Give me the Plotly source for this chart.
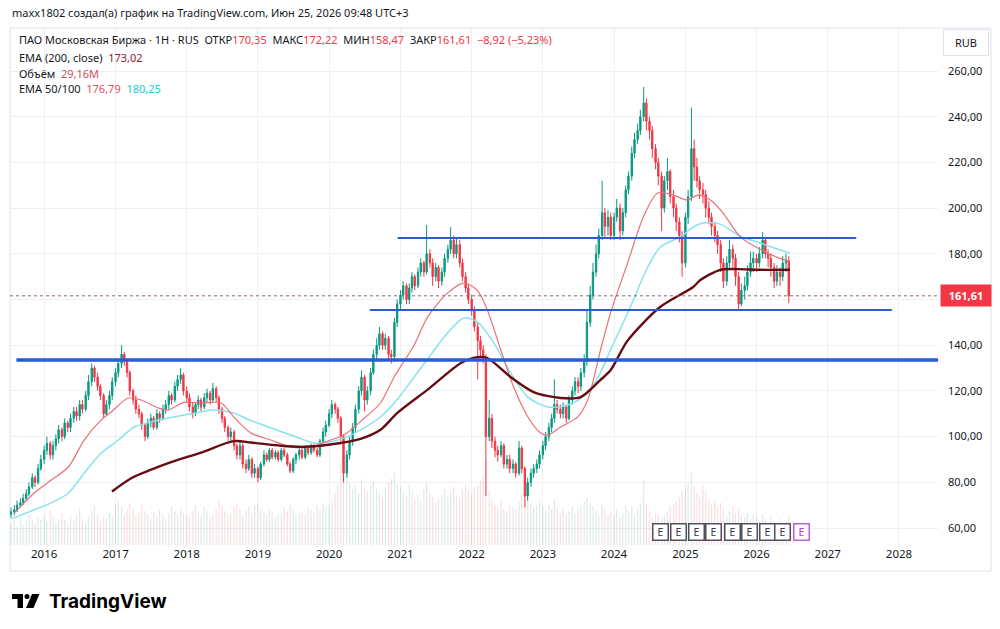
import pandas as pd
import plotly.graph_objects as go

# ---------------- data (semi-monthly candles) ----------------
opens = [
    # 2015
    66, 67, 68, 70, 71, 73, 75, 78, 82, 80, 86,
    # 2016
    90, 94, 97, 92, 96, 99, 103, 100, 106, 104, 108, 111, 109, 114, 112, 118, 124, 130, 126, 122, 118, 110, 114, 118,
    # 2017
    124, 128, 132, 136, 133, 128, 120, 116, 112, 110, 105, 100, 106, 108, 104, 110, 108, 112, 114, 118, 116, 122, 125, 127,
    # 2018
    120, 117, 113, 110, 114, 116, 113, 117, 119, 116, 121, 117, 112, 108, 104, 100, 102, 96, 92, 96, 88, 86, 90, 84,
    # 2019
    86, 82, 88, 92, 90, 94, 91, 93, 90, 94, 92, 88, 85, 90, 92, 94, 91, 95, 93, 96, 94, 92, 98, 102,
    # 2020
    105, 110, 114, 112, 108, 100, 84, 92, 98, 104, 112, 120, 126, 116, 120, 128, 136, 140, 145, 140, 143, 136, 135, 150,
    # 2021
    158, 162, 166, 160, 165, 170, 166, 172, 176, 172, 180, 176, 170, 174, 168, 172, 178, 182, 186, 180, 184, 176, 170, 165,
    # 2022
    160, 155, 148, 142, 138, 134, 100, 108, 98, 94, 92, 96, 88, 90, 86, 88, 84, 95, 86, 74, 80, 84, 86, 88,
    # 2023
    92, 96, 100, 104, 108, 114, 112, 110, 113, 108, 116, 120, 124, 122, 128, 133, 150, 162, 172, 180, 188, 198, 192, 196,
    # 2024
    188, 196, 200, 190, 198, 208, 214, 224, 230, 234, 240, 246, 238, 234, 226, 220, 214, 200, 212, 216, 205, 200, 194, 188,
    # 2025
    176, 196, 205, 226, 218, 212, 208, 206, 200, 196, 192, 188, 184, 176, 168, 176, 182, 178, 170, 158, 164, 166, 172, 176,
    # 2026
    178, 176, 180, 186, 180, 178, 174, 168, 172, 170, 176, 177,
]
highs = [
    69, 70, 72, 73, 75, 77, 80, 84, 83, 88, 92,
    96, 100, 98, 98, 101, 105, 104, 108, 107, 110, 113, 113, 116, 116, 120, 127, 132, 131, 128, 123, 119, 116, 120, 126,
    130, 134, 140, 137, 134, 129, 121, 118, 114, 111, 106, 108, 110, 109, 112, 111, 114, 116, 120, 119, 124, 127, 130, 128,
    122, 119, 115, 115, 118, 117, 119, 121, 120, 123.5, 122, 118, 113, 109, 105, 104, 103, 97, 98, 97, 90, 92, 91, 88,
    87, 89, 94, 93, 95, 95, 94, 94, 95, 95, 93, 89, 91, 93, 96, 95, 96, 96, 97, 97, 95, 99, 104, 107,
    112, 116, 115, 113, 109, 101, 94, 100, 106, 114, 122, 129, 127, 122, 130, 138, 143, 148, 146, 145, 144, 138, 152, 160,
    164, 168, 167, 167, 172, 171, 174, 178, 177, 192.6, 182, 178, 176, 175, 174, 180, 184, 191.7, 188, 187, 186, 178, 172, 167,
    162, 157, 150, 144, 140, 136, 116, 110, 100, 96, 98, 97, 92, 92, 90, 89, 98, 96, 87, 82, 86, 88, 90, 94,
    98, 102, 106, 110, 125, 116, 114, 115, 114, 118, 122, 126, 126, 130, 136, 155, 166, 176, 184, 191, 212, 200, 199, 198,
    198, 204, 202, 200, 210, 216, 227, 233, 237, 243, 253, 248, 240, 236, 228, 222, 216, 214, 222, 217, 208, 202, 196, 190,
    198, 208, 244, 230, 222, 214, 211, 208, 203, 198, 194, 190, 186, 178, 179, 186, 184, 180, 172, 167, 170, 175, 181, 181,
    180, 183, 189.6, 187, 182, 180, 176, 175, 174, 179, 180, 179,
]
lows = [
    64.5, 65.5, 67, 69, 70, 72, 74, 77, 78, 79, 85,
    88, 92, 90, 90, 94, 97, 98, 99, 102, 102, 106, 107, 107, 110, 111, 116, 122, 124, 120, 116, 108, 109, 112, 116,
    122, 126, 130, 131, 126, 118, 114, 110, 108, 103, 98, 99, 104, 103, 103, 106, 107, 110, 112, 114, 115, 120, 123, 118,
    115, 111, 108, 109, 112, 111, 112, 115, 114, 115, 115, 110, 106, 102, 98, 98, 94, 90, 90, 86, 84, 85, 82, 82,
    80, 81, 87, 89, 89, 90, 90, 89, 89, 91, 87, 84, 84, 88, 90, 90, 90, 92, 92, 93, 91, 91, 97, 100,
    104, 108, 110, 106, 98, 80, 82, 90, 96, 102, 110, 118, 111, 114, 118, 127, 134, 138, 138, 138, 134, 132, 134, 148,
    155, 160, 158, 158, 163, 164, 165, 170, 170, 171, 174, 166, 168, 165, 166, 170, 176, 180, 178, 178, 174, 168, 163, 158,
    153, 146, 125, 135, 132, 74, 98, 95, 91, 89, 91, 86, 86, 84, 84, 82, 83, 84, 69, 72, 78, 82, 84, 86,
    90, 94, 98, 102, 106, 110, 108, 108, 106, 107, 114, 118, 119, 120, 126, 131, 148, 160, 170, 178, 186, 187, 188, 186,
    186, 194, 186, 188, 196, 206, 212, 222, 228, 232, 238, 234, 230, 222, 217, 210, 190, 198, 208, 202, 196, 190, 185, 170,
    174, 193, 203, 212, 209, 204, 202, 196, 193, 188, 185, 180, 172, 165, 166, 174, 174, 166, 155.4, 157, 160, 164, 170, 172,
    172, 174, 178, 178, 174, 170, 165, 166, 166, 168, 172, 158.47,
]
closes = [
    67, 68, 70, 71, 73, 75, 78, 82, 80, 86, 90,
    94, 97, 92, 96, 99, 103, 100, 106, 104, 108, 111, 109, 114, 112, 118, 124, 130, 126, 122, 118, 110, 114, 118, 124,
    128, 132, 136, 133, 128, 120, 116, 112, 110, 105, 100, 106, 108, 104, 110, 108, 112, 114, 118, 116, 122, 125, 127, 120,
    117, 113, 110, 114, 116, 113, 117, 119, 116, 121, 117, 112, 108, 104, 100, 102, 96, 92, 96, 88, 86, 90, 84, 86,
    82, 88, 92, 90, 94, 91, 93, 90, 94, 92, 88, 85, 90, 92, 94, 91, 95, 93, 96, 94, 92, 98, 102, 105,
    110, 114, 112, 108, 100, 84, 92, 98, 104, 112, 120, 126, 116, 120, 128, 136, 140, 145, 140, 143, 136, 135, 150, 158,
    162, 166, 160, 165, 170, 166, 172, 176, 172, 180, 176, 170, 174, 168, 172, 178, 182, 186, 180, 184, 176, 170, 165, 160,
    155, 148, 142, 138, 134, 100, 108, 98, 94, 92, 96, 88, 90, 86, 88, 84, 95, 86, 74, 80, 84, 86, 88, 92,
    96, 100, 104, 108, 114, 112, 110, 113, 108, 116, 120, 124, 122, 128, 133, 150, 162, 172, 180, 188, 198, 192, 196, 188,
    196, 200, 190, 198, 208, 214, 224, 230, 234, 240, 246, 238, 234, 226, 220, 214, 200, 212, 216, 205, 200, 194, 188, 176,
    196, 205, 226, 218, 212, 208, 206, 200, 196, 192, 188, 184, 176, 168, 176, 182, 178, 170, 158, 164, 166, 172, 176, 178,
    176, 180, 186, 180, 178, 174, 168, 172, 170, 176, 177, 161.61,
]
volumes = [  # millions
    22, 25, 18, 28, 20, 24, 30, 26, 22, 28, 25,
    30, 24, 35, 28, 22, 26, 32, 25, 20, 28, 24, 30, 36, 26, 22, 28, 34, 38, 30, 24, 28, 26, 32, 28,
    40, 45, 38, 30, 35, 42, 36, 28, 32, 40, 34, 30, 26, 32, 28, 35, 30, 26, 32, 38, 34, 30, 36, 32,
    30, 28, 34, 40, 32, 30, 38, 34, 28, 30, 36, 44, 40, 34, 30, 32, 38, 42, 36, 30, 34, 38, 32, 40,
    42, 36, 32, 30, 36, 34, 28, 30, 32, 38, 34, 40, 36, 30, 32, 34, 30, 38, 36, 32, 40, 36, 42, 38,
    40, 44, 52, 60, 82, 78, 70, 62, 56, 60, 52, 66, 58, 54, 60, 64, 56, 52, 48, 58, 62, 66, 72, 60,
    58, 52, 48, 60, 54, 46, 50, 44, 56, 62, 52, 48, 42, 46, 50, 56, 48, 52, 58, 50, 46, 54, 60, 56,
    52, 58, 60, 64, 70, 85, 54, 46, 40, 38, 44, 36, 34, 40, 38, 36, 44, 52, 56, 48, 42, 38, 40, 44,
    38, 34, 40, 36, 46, 38, 32, 36, 30, 34, 38, 32, 36, 40, 44, 48, 42, 38, 34, 30, 40, 36, 30, 34,
    30, 36, 28, 32, 40, 34, 38, 30, 36, 42, 65, 40, 34, 28, 32, 30, 26, 30, 34, 38, 40, 44, 48, 54,
    56, 62, 72, 58, 52, 48, 60, 54, 46, 40, 44, 38, 42, 36, 30, 34, 38, 32, 36, 30, 28, 32, 26, 30,
    28, 24, 30, 26, 22, 28, 24, 20, 26, 22, 24, 29,
]
dates = pd.date_range("2015-07-15", periods=len(closes), freq="SMS")

# indicator lines (decimal year, value)
ema200_t = [2016.95, 2017.22, 2017.50, 2017.78, 2018.20, 2018.66, 2018.90, 2019.32, 2019.60, 2019.88,
            2020.16, 2020.44, 2020.72, 2020.96, 2021.40, 2021.85, 2022.08, 2022.22, 2022.55, 2022.87,
            2023.25, 2023.53, 2023.81, 2023.95, 2024.19, 2024.65, 2025.11, 2025.21, 2025.49, 2025.73,
            2026.05, 2026.47]
ema200_v = [76, 81.8, 85.5, 88.8, 93, 98, 97.4, 96, 95.5, 96,
            97.2, 99, 103, 110.5, 121, 132.2, 134.8, 134.4, 126, 119.5,
            116.9, 117.3, 124.8, 129, 142, 156.8, 165.5, 168.5, 173, 173.3,
            173, 173.02]
ema50_t = [2015.58, 2015.86, 2016.10, 2016.34, 2016.56, 2016.80, 2016.94, 2017.18, 2017.36, 2017.60,
           2017.74, 2017.96, 2018.20, 2018.48, 2018.66, 2018.90, 2019.18, 2019.46, 2019.74, 2020.02,
           2020.21, 2020.49, 2020.72, 2020.91, 2021.19, 2021.38, 2021.66, 2021.89, 2022.08, 2022.22,
           2022.41, 2022.59, 2022.79, 2022.97, 2023.07, 2023.25, 2023.49, 2023.63, 2023.81, 2023.95,
           2024.19, 2024.41, 2024.61, 2024.83, 2025.03, 2025.17, 2025.35, 2025.53, 2025.77, 2026.05,
           2026.33, 2026.47]
ema50_v = [66.5, 75.3, 81, 86.7, 98.5, 107.3, 110.8, 116.9, 116, 112.5,
           111.6, 115, 114.7, 114.7, 108.6, 101.6, 98.5, 95.5, 95.5, 98.5,
           100.7, 108, 114.7, 126, 140, 152.3, 162.8, 167.2, 164, 155.4,
           137.9, 121.7, 108.6, 101.6, 100.7, 104.2, 108.6, 116, 137.9, 154,
           176, 196, 206.6, 205.7, 203.5, 205.7, 203.5, 197.8, 187.4, 182,
           178, 176.79]
ema100_t = [2015.54, 2015.86, 2016.10, 2016.34, 2016.56, 2016.80, 2017.04, 2017.26, 2017.50, 2017.74,
            2017.96, 2018.20, 2018.38, 2018.66, 2018.90, 2019.08, 2019.56, 2019.79, 2020.02, 2020.26,
            2020.49, 2020.72, 2020.96, 2021.19, 2021.43, 2021.66, 2021.89, 2022.08, 2022.31, 2022.55,
            2022.79, 2023.07, 2023.35, 2023.63, 2023.81, 2023.95, 2024.19, 2024.47, 2024.65, 2024.93,
            2025.11, 2025.25, 2025.49, 2025.77, 2026.05, 2026.47]
ema100_v = [64, 68, 71, 75.3, 84, 92.8, 98.5, 104.2, 106.4, 108.1,
            109.5, 110.8, 111.6, 110.3, 107, 105, 99.6, 97.2, 97.7, 100,
            103.8, 108.6, 116.5, 126, 136, 145.3, 151.9, 150.2, 141, 127.8,
            117.3, 113, 113.8, 119, 128, 137.9, 154, 174, 183, 187.4,
            191.7, 193.5, 193, 187.7, 184.7, 180.25]

# drawn horizontal levels: (value, start year, end year)
level_vals = [133.5, 186.9, 155.4]
level_start = [2015.61, 2020.96, 2020.57]
level_end = [2028.547, 2027.40, 2027.90]

earnings_t = [2024.65, 2024.90, 2025.15, 2025.39, 2025.66, 2025.90, 2026.15, 2026.37]
upcoming_t = [2026.63]

years = list(range(2016, 2029))
price_ticks = [60, 80, 100, 120, 140, 160, 180, 200, 220, 240, 260]
hidden_tick = 160  # covered by the last-price label
last_price = 161.61

# ---------------- styling ----------------
UP = "#089981"
DOWN = "#F23645"
FONT = "Noto Sans"
TXT = "#131722"
GRID = "#eef0f3"

W, H = 1000, 629
ML, MR, MT, MB = 10, 62, 28, 84
PW, PH = W - ML - MR, H - MT - MB


def px(x):
    return (x - ML) / PW


def py(y):
    return (H - MB - y) / PH


def yr(v):
    y = int(v)
    a = pd.Timestamp(y, 1, 1)
    b = pd.Timestamp(y + 1, 1, 1)
    return a + (v - y) * (b - a)


vol_colors = ["rgba(90,150,135,0.2)" if c >= o else "rgba(220,90,100,0.2)" for o, c in zip(opens, closes)]

fig = go.Figure()
fig.add_trace(go.Bar(x=dates, y=volumes, yaxis="y2", marker=dict(color=vol_colors, line=dict(width=0)),
                     width=6 * 86400000, hoverinfo="skip", showlegend=False))
fig.add_trace(go.Candlestick(
    x=dates, open=opens, high=highs, low=lows, close=closes,
    increasing=dict(line=dict(color=UP, width=1), fillcolor=UP),
    decreasing=dict(line=dict(color=DOWN, width=1), fillcolor=DOWN),
    whiskerwidth=0, showlegend=False))
fig.add_trace(go.Scatter(x=[yr(t) for t in ema100_t], y=ema100_v, mode="lines",
                         line=dict(color="#86e3ec", width=1.5, shape="spline", smoothing=0.8),
                         showlegend=False, hoverinfo="skip"))
fig.add_trace(go.Scatter(x=[yr(t) for t in ema50_t], y=ema50_v, mode="lines",
                         line=dict(color="#ea7078", width=1.2, shape="spline", smoothing=0.8),
                         showlegend=False, hoverinfo="skip"))
fig.add_trace(go.Scatter(x=[yr(t) for t in ema200_t], y=ema200_v, mode="lines",
                         line=dict(color="#680c14", width=2.4, shape="spline", smoothing=0.8),
                         showlegend=False, hoverinfo="skip"))

shapes = []
# panel border
shapes.append(dict(type="rect", xref="paper", yref="paper", x0=px(10), x1=px(991), y0=py(571), y1=py(28),
                   line=dict(color="#e0e3eb", width=1), layer="below"))
# last price dotted line
shapes.append(dict(type="line", xref="paper", yref="y", x0=0, x1=1, y0=last_price, y1=last_price,
                   line=dict(color="#9a6068", width=1, dash="dot")))
# drawn levels
widths = [3.5, 2, 2]
for v, s, e, w in zip(level_vals, level_start, level_end, widths):
    shapes.append(dict(type="line", xref="x", yref="y", x0=yr(s), x1=yr(e), y0=v, y1=v,
                       line=dict(color="#2a5bd7", width=w), layer="above"))
# TradingView logo icon
shapes.append(dict(type="rect", xref="paper", yref="paper", x0=px(12), x1=px(23), y0=py(599), y1=py(594),
                   fillcolor="#000", line=dict(width=0)))
shapes.append(dict(type="rect", xref="paper", yref="paper", x0=px(17.5), x1=px(23), y0=py(608), y1=py(594),
                   fillcolor="#000", line=dict(width=0)))
shapes.append(dict(type="circle", xref="paper", yref="paper", x0=px(24.5), x1=px(29.5), y0=py(599), y1=py(594),
                   fillcolor="#000", line=dict(width=0)))
shapes.append(dict(type="path", xref="paper", yref="paper",
                   path=f"M {px(32)},{py(594)} L {px(39.5)},{py(594)} L {px(33.5)},{py(608)} L {px(26)},{py(608)} Z",
                   fillcolor="#000", line=dict(width=0)))

R = lambda s: f'<span style="color:{DOWN}">{s}</span>'
nb = "\u00a0"
ann = []
ann.append(dict(xref="paper", yref="paper", x=px(10), y=py(13), xanchor="left", yanchor="middle",
                text="maxx1802 создал(а) график на TradingView.com, Июн 25, 2026 09:48 UTC+3",
                showarrow=False, font=dict(family=FONT, size=11, color=TXT)))
line1 = ("ПАО Московская Биржа · 1H · RUS" + nb * 2 + "ОТКР" + R("170,35") + nb * 2 + "МАКС" + R("172,22")
         + nb * 2 + "МИН" + R("158,47") + nb * 2 + "ЗАКР" + R("161,61") + nb * 2 + R("−8,92 (−5,23%)"))
ann.append(dict(xref="paper", yref="paper", x=px(17), y=py(40), xanchor="left", yanchor="middle",
                text=line1, showarrow=False, font=dict(family=FONT, size=11, color=TXT)))
ann.append(dict(xref="paper", yref="paper", x=px(17), y=py(57), xanchor="left", yanchor="middle",
                text="EMA (200, close)" + nb * 2 + '<span style="color:#8e1b2c">173,02</span>',
                showarrow=False, font=dict(family=FONT, size=11, color=TXT)))
ann.append(dict(xref="paper", yref="paper", x=px(17), y=py(73), xanchor="left", yanchor="middle",
                text="Объём" + nb * 2 + '<span style="color:#d0505c">29,16M</span>',
                showarrow=False, font=dict(family=FONT, size=11, color=TXT)))
ann.append(dict(xref="paper", yref="paper", x=px(17), y=py(89), xanchor="left", yanchor="middle",
                text="EMA 50/100" + nb * 2 + '<span style="color:#e0505c">176,79</span>' + nb * 2
                     + '<span style="color:#22c8da">180,25</span>',
                showarrow=False, font=dict(family=FONT, size=11, color=TXT)))
# last price label
ann.append(dict(xref="paper", yref="y", x=px(940), y=last_price, xanchor="left", yanchor="middle",
                text="<b>161,61</b>", showarrow=False, bgcolor=DOWN, borderpad=3, width=44,
                font=dict(family=FONT, size=11, color="white")))
# currency box
ann.append(dict(xref="paper", yref="paper", x=px(966), y=py(43), xanchor="center", yanchor="middle",
                text="RUB", showarrow=False, bgcolor="white", bordercolor="#e0e3eb", borderwidth=1,
                borderpad=5, width=34, font=dict(family=FONT, size=11, color=TXT)))
# earnings markers
for t in earnings_t:
    ann.append(dict(xref="x", yref="paper", x=yr(t), y=py(532), xanchor="center", yanchor="middle",
                    text="E", showarrow=False, bgcolor="white", bordercolor="#50535e", borderwidth=1.5,
                    borderpad=1, width=12, height=13, font=dict(family=FONT, size=10.5, color="#363a45")))
for t in upcoming_t:
    ann.append(dict(xref="x", yref="paper", x=yr(t), y=py(532), xanchor="center", yanchor="middle",
                    text="E", showarrow=False, bgcolor="white", bordercolor="#c45ae0", borderwidth=1.5,
                    borderpad=1, width=12, height=13, font=dict(family=FONT, size=10.5, color="#b040d8")))
# TradingView wordmark
ann.append(dict(xref="paper", yref="paper", x=px(47), y=py(601), xanchor="left", yanchor="middle",
                text="<b>TradingView</b>", showarrow=False, font=dict(family="Inter", size=19, color="#000")))

fig.update_layout(
    width=W, height=H, margin=dict(l=ML, r=MR, t=MT, b=MB),
    paper_bgcolor="white", plot_bgcolor="white",
    showlegend=False, bargap=0.5, hovermode=False,
    xaxis=dict(type="date", range=[yr(2015.52), yr(2028.547)], rangeslider=dict(visible=False),
               tickvals=[pd.Timestamp(y, 1, 1) for y in years], ticktext=[str(y) for y in years],
               showgrid=True, gridcolor=GRID, gridwidth=1, zeroline=False, showline=False, ticks="",
               tickfont=dict(family=FONT, size=11.5, color=TXT)),
    yaxis=dict(side="right", range=[52.56, 278.82], tickvals=price_ticks,
               ticktext=["" if v == hidden_tick else f"{v:.2f}".replace(".", ",") for v in price_ticks],
               showgrid=True, gridcolor=GRID, gridwidth=1, zeroline=False, showline=False, ticks="",
               ticklabelstandoff=9, tickfont=dict(family=FONT, size=11, color=TXT)),
    yaxis2=dict(overlaying="y", range=[0, PH], visible=False, fixedrange=True),
    shapes=shapes, annotations=ann,
)

fig.write_html("out.html")
